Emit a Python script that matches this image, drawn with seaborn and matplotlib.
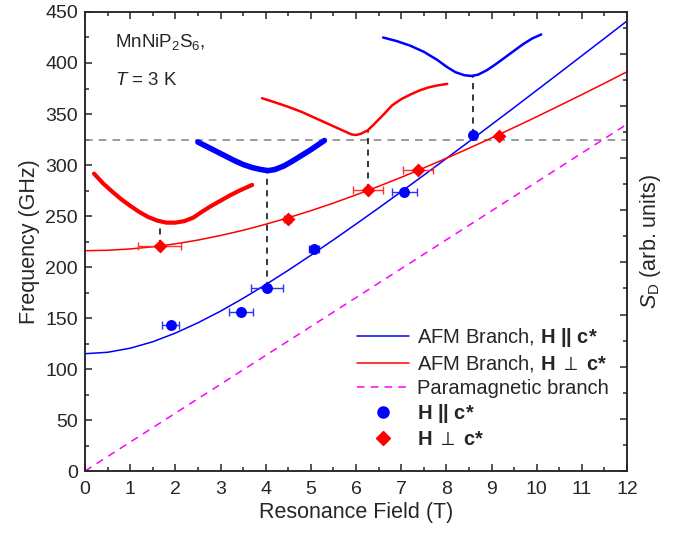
import matplotlib
matplotlib.use("Agg")
import matplotlib.pyplot as plt
from matplotlib.lines import Line2D
from matplotlib.ticker import MultipleLocator
import seaborn as sns
import pandas as pd

# fitted AFM branches, every 0.5 T
field_grid = [0, 0.5, 1, 1.5, 2, 2.5, 3, 3.5, 4, 4.5, 5, 5.5, 6, 6.5, 7, 7.5,
              8, 8.5, 9, 9.5, 10, 10.5, 11, 11.5, 12]
afm_par = [115, 116.4, 120.4, 126.7, 135.2, 145.3, 156.7, 169.3, 182.7, 196.8,
           211.5, 226.6, 242.1, 257.8, 273.8, 290.0, 306.4, 322.9, 339.6, 356.3,
           373.2, 390.1, 407.1, 424.1, 441.2]
afm_perp = [216, 216.4, 217.7, 219.8, 222.7, 226.4, 230.9, 236.0, 241.9, 248.3,
            255.2, 262.7, 270.7, 279.1, 287.9, 297.1, 306.6, 316.4, 326.5, 336.8,
            347.3, 358.1, 369.0, 380.1, 391.4]
para_field = [0, 12]
para_freq = [0, 340]

# measured resonances
par_field = [1.9, 3.45, 4.03, 5.08, 7.07, 8.6]
par_freq = [143, 155.5, 179, 217.5, 274, 329.5]
par_err = [0.19, 0.26, 0.36, 0.11, 0.27, 0.0]
perp_field = [1.65, 4.49, 6.26, 7.38, 9.16]
perp_freq = [220.5, 247, 275.5, 295.5, 328.5]
perp_err = [0.48, 0.08, 0.33, 0.33, 0.0]

# example spectra S_D (drawn in frequency units, offset)
spec1_x = [0.2, 0.4, 0.6, 0.8, 1.0, 1.2, 1.4, 1.6, 1.8, 2.0, 2.2, 2.4, 2.6, 2.8,
           3.0, 3.2, 3.4, 3.6, 3.7]
spec1_y = [291.5, 282, 274, 266.5, 260, 254, 249, 245.5, 243.5, 243.5, 245,
           248.5, 254.5, 260, 265, 270, 274.5, 278.5, 280.5]
spec2_x = [2.5, 2.7, 2.9, 3.1, 3.3, 3.5, 3.7, 3.9, 4.05, 4.2, 4.4, 4.6, 4.8,
           5.0, 5.2, 5.3]
spec2_y = [322.5, 318, 313.5, 309, 304.5, 300.5, 297.5, 295.5, 294.5, 295.5,
           299, 304, 309.5, 315, 321, 324]
spec3_x = [3.92, 4.2, 4.5, 4.8, 5.1, 5.4, 5.7, 5.9, 6.0, 6.1, 6.26, 6.4, 6.6,
           6.8, 7.0, 7.2, 7.4, 7.6, 7.8, 8.02]
spec3_y = [365.5, 361.5, 357, 352, 346, 340, 334, 330, 329.4, 330.5, 334, 340,
           349, 358.5, 364.5, 369, 373, 376, 378, 379.5]
spec4_x = [6.6, 6.9, 7.2, 7.5, 7.8, 8.0, 8.2, 8.4, 8.55, 8.7, 8.9, 9.1, 9.3,
           9.5, 9.7, 9.9, 10.1]
spec4_y = [425, 421.5, 417, 411, 403, 396.5, 391, 388, 387.3, 388.5, 393, 399,
           405.5, 412, 418.5, 424, 428]

# guides linking points to spectrum minima
guide_x = [1.65, 4.03, 6.26, 8.6]
guide_lo = [220.5, 179, 275.5, 329.5]
guide_hi = [244, 294.5, 333, 387.3]
ref_freq = 325

sns.set_style("ticks")
plt.rcParams["font.family"] = ["Liberation Sans", "DejaVu Sans"]
plt.rcParams["mathtext.fontset"] = "custom"
plt.rcParams["mathtext.rm"] = "Liberation Sans"
plt.rcParams["mathtext.it"] = "Liberation Sans:italic"
plt.rcParams["mathtext.bf"] = "Liberation Sans:bold"

fig, ax = plt.subplots(figsize=(6.9, 5.38), dpi=100)
fig.subplots_adjust(left=0.1232, right=0.9087, top=0.9777, bottom=0.1245)

blue = "#0000ff"
red = "#ff0000"

ax.axhline(ref_freq, color="#808080", lw=1.1, ls=(0, (5, 4)), zorder=1)
for gx, lo, hi in zip(guide_x, guide_lo, guide_hi):
    ax.plot([gx, gx], [lo, hi], color="black", lw=1.1, ls=(0, (4, 3.5)), zorder=1)

sns.lineplot(x=spec1_x, y=spec1_y, ax=ax, color=red, lw=3.0, sort=False, estimator=None)
sns.lineplot(x=spec2_x, y=spec2_y, ax=ax, color=blue, lw=4.0, sort=False, estimator=None)
sns.lineplot(x=spec3_x, y=spec3_y, ax=ax, color=red, lw=1.8, sort=False, estimator=None)
sns.lineplot(x=spec4_x, y=spec4_y, ax=ax, color=blue, lw=1.8, sort=False, estimator=None)

curves = pd.DataFrame({"B": field_grid, "par": afm_par, "perp": afm_perp})
sns.lineplot(data=curves, x="B", y="par", ax=ax, color=blue, lw=1.1, estimator=None)
sns.lineplot(data=curves, x="B", y="perp", ax=ax, color=red, lw=1.1, estimator=None)
sns.lineplot(x=para_field, y=para_freq, ax=ax, color="#ff00ff", lw=1.1,
             linestyle=(0, (5, 4)), estimator=None)

ax.errorbar(par_field, par_freq, xerr=par_err, fmt="none", ecolor="#3030ff",
            elinewidth=1.0, capsize=3, capthick=1.0, zorder=3)
ax.errorbar(perp_field, perp_freq, xerr=perp_err, fmt="none", ecolor="#ff3030",
            elinewidth=1.0, capsize=3, capthick=1.0, zorder=3)
sns.scatterplot(x=par_field, y=par_freq, ax=ax, color=blue, marker="o", s=62,
                edgecolor=blue, linewidth=0, zorder=4)
sns.scatterplot(x=perp_field, y=perp_freq, ax=ax, color=red, marker="D", s=50,
                edgecolor=red, linewidth=0, zorder=4)

ax.text(0.665, 415.7, r"MnNiP$_2$S$_6$,", fontsize=13.5, va="baseline")
ax.text(0.665, 378.4, r"$T$ = 3 K", fontsize=13.5, va="baseline")

ax.set_xlim(0, 12)
ax.set_ylim(0, 450)
ax.xaxis.set_major_locator(MultipleLocator(1))
ax.xaxis.set_minor_locator(MultipleLocator(0.5))
ax.yaxis.set_major_locator(MultipleLocator(50))
ax.yaxis.set_minor_locator(MultipleLocator(25))
ax.tick_params(which="both", direction="in", top=True, right=False,
               labelsize=14, width=1.1)
ax.tick_params(axis="x", pad=7)
ax.tick_params(axis="y", pad=5)
ax.tick_params(which="major", length=5)
ax.tick_params(which="minor", length=3)
ax.set_xlabel("Resonance Field (T)", fontsize=15.5, labelpad=3)
ax.set_ylabel("Frequency (GHz)", fontsize=15.5, labelpad=4)
for sp in ax.spines.values():
    sp.set_linewidth(1.1)
    sp.set_visible(True)

ax2 = ax.twinx()
ax2.set_ylim(0, 8.8)
ax2.yaxis.set_major_locator(MultipleLocator(1))
ax2.yaxis.set_minor_locator(MultipleLocator(0.5))
ax2.tick_params(which="both", direction="in", width=1.1, labelright=False)
ax2.tick_params(which="major", length=5)
ax2.tick_params(which="minor", length=3)
ax2.set_ylabel(r"$S_\mathrm{D}$ (arb. units)", fontsize=15.5, labelpad=8)
for sp in ax2.spines.values():
    sp.set_linewidth(1.1)

handles = [
    Line2D([], [], color=blue, lw=1.1),
    Line2D([], [], color=red, lw=1.1),
    Line2D([], [], color="#ff00ff", lw=1.1, ls=(0, (5, 4))),
    Line2D([], [], color=blue, marker="o", ms=8, lw=0),
    Line2D([], [], color=red, marker="D", ms=7, lw=0),
]
labels = [
    r"AFM Branch, $\mathbf{H\ ||\ c{*}}$",
    r"AFM Branch, $\mathbf{H}\ \perp\ \mathbf{c{*}}$",
    "Paramagnetic branch",
    r"$\mathbf{H\ ||\ c{*}}$",
    r"$\mathbf{H}\ \perp\ \mathbf{c{*}}$",
]
ax.legend(handles, labels, loc="lower right", bbox_to_anchor=(0.993, 0.018),
          frameon=False, fontsize=14.5, handlelength=2.6, handletextpad=0.4,
          labelspacing=0.22, borderpad=0.2)

fig.savefig("out.png", dpi=100)
